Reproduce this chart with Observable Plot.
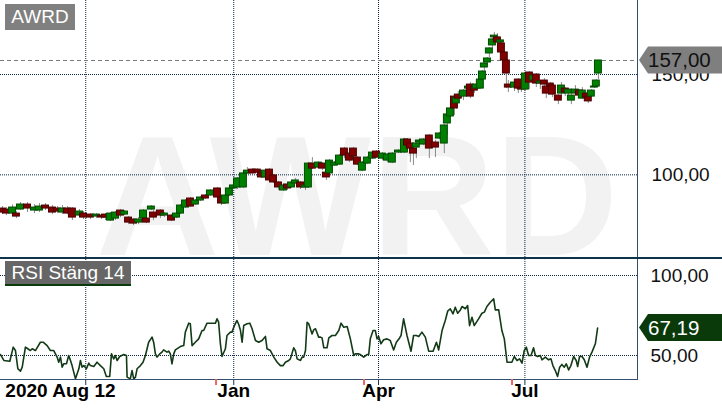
<!DOCTYPE html>
<html><head><meta charset="utf-8">
<script src="https://cdn.jsdelivr.net/npm/d3@7"></script>
<script src="https://cdn.jsdelivr.net/npm/@observablehq/plot@0.6"></script>
<style>
body{margin:0;background:#fff;font-family:Arial,"Liberation Sans",sans-serif;}
#wrap{position:relative;width:722px;height:411px;overflow:hidden;background:#fff;}
#wrap svg{position:absolute;left:0;overflow:hidden;}
.tag{position:absolute;color:#fff;font-size:19px;text-align:center;font-family:Arial,"Liberation Sans",sans-serif;}
</style></head><body><div id="wrap"></div>
<script>
// x = calendar days since 2020-08-09
const candleDay = [1.2,3.7,7.5,9.9,12.4,16.8,21.1,24.2,28.0,32.3,35.4,38.5,41.6,44.7,49.1,51.6,55.9,59.7,62.8,65.3,68.4,71.5,74.6,77.1,79.6,82.7,85.8,88.9,90.7,93.8,95.1,99.4,101.9,106.3,109.4,111.9,115.0,118.1,121.2,124.3,127.4,130.5,134.9,137.4,139.8,142.3,144.8,147.3,151.0,153.5,156.6,159.7,162.2,164.7,167.2,169.7,172.8,175.9,178.4,180.9,183.3,186.5,189.6,191.4,193.9,197.6,200.1,202.6,204.5,207.6,210.7,213.8,216.9,219.4,221.9,225.0,228.1,231.2,233.7,237.4,240.5,243.6,247.4,251.1,253.0,254.8,256.7,258.5,260.4,262.9,266.6,270.4,272.8,275.9,277.8,279.7,282.2,283.4,284.6,287.8,290.9,292.1,294.6,295.8,298.3,299.6,300.8,302.7,303.9,305.8,307.0,308.9,310.8,311.4,313.2,314.5,315.7,319.5,321.9,323.8,326.3,328.8,331.3,333.1,335.6,338.1,339.3,341.8,343.1,346.8,348.7,351.1,353.0,354.9,357.4,359.9,361.7,364.2,365.4,367.3,369.2,370.4,371.7];
const candleOpen = [83.2,82.7,80.7,80.7,82.7,85.2,82.2,82.2,84.7,83.7,83.2,81.2,83.2,83.2,79.7,80.7,80.2,79.2,79.7,80.2,77.2,78.2,82.2,80.2,78.7,77.7,76.2,78.2,78.2,82.7,81.2,82.2,79.7,79.7,78.7,80.7,83.7,88.2,85.2,87.2,89.7,89.7,93.2,88.7,85.7,89.7,93.2,93.7,93.7,100.7,102.6,102.6,101.1,98.7,102.6,99.7,96.2,92.2,95.2,93.7,95.7,96.2,93.7,93.7,105.6,103.6,105.6,101.1,100.7,104.6,105.1,113.1,110.6,113.1,108.6,102.1,105.6,108.1,111.6,108.1,107.1,106.1,111.1,111.1,117.6,115.6,113.1,113.6,116.1,115.1,119.6,116.1,118.1,115.6,125.6,129.1,139.0,135.6,140.0,139.0,143.0,145.0,144.0,143.0,143.0,147.5,153.5,156.0,160.5,164.5,168.5,168.5,166.0,165.5,161.0,157.0,145.0,143.5,147.5,143.5,142.5,151.0,147.0,150.0,145.5,147.0,144.0,145.5,144.5,139.5,140.5,143.0,140.5,137.0,140.5,142.0,138.0,140.5,139.0,139.0,143.5,144.0,150.5];
const candleClose = [81.2,80.7,83.7,79.2,85.2,83.2,83.7,84.2,83.2,81.2,81.7,83.2,80.7,78.7,81.7,78.7,78.7,80.2,78.7,78.7,80.7,81.2,79.7,81.7,76.2,75.7,77.7,82.2,76.2,84.2,78.7,79.7,80.7,77.2,80.7,84.7,87.2,84.2,87.2,88.7,88.2,92.2,88.7,85.7,89.7,93.2,94.7,98.2,100.7,102.1,100.7,101.1,98.7,102.1,97.2,96.2,93.7,94.7,93.2,96.2,97.2,93.7,94.7,105.6,103.1,106.1,103.1,98.7,107.1,106.1,109.6,109.6,107.1,109.1,105.1,106.1,108.6,111.1,108.6,110.6,110.1,110.6,112.1,117.6,114.6,113.1,110.6,115.6,117.1,117.6,113.1,113.6,120.6,124.6,130.1,133.1,133.1,138.5,138.0,142.0,144.0,139.0,142.0,145.0,147.5,151.5,155.5,158.0,163.0,167.5,169.4,166.0,167.0,161.0,157.0,150.5,143.5,146.0,143.0,142.5,150.5,146.0,149.5,145.5,146.5,145.0,140.5,144.0,140.0,137.0,144.5,141.0,142.5,139.5,142.5,139.5,142.0,138.5,136.6,142.0,144.0,147.0,157.0];
const candleHigh = [84.2,83.7,85.0,81.7,86.2,86.2,85.2,85.7,85.7,84.7,84.2,84.7,84.2,83.7,82.7,81.7,80.7,80.7,80.2,80.7,81.2,81.7,82.7,82.2,79.2,78.2,78.7,82.7,79.2,84.7,82.2,82.7,81.2,80.2,81.2,85.2,87.7,88.7,87.7,89.2,90.2,92.7,93.7,89.2,90.2,93.7,95.2,98.7,101.2,103.6,103.1,103.1,101.6,102.6,103.1,100.2,96.7,95.2,95.7,96.7,98.2,96.7,95.2,106.1,108.6,106.6,106.1,103.6,107.6,106.6,110.1,113.6,111.1,113.6,109.1,106.6,109.1,111.6,112.1,111.1,110.6,111.1,112.6,118.1,118.1,116.1,113.6,116.1,117.6,118.1,120.1,117.1,121.1,125.1,130.6,135.6,140.0,139.0,141.5,142.5,145.0,146.0,144.5,145.5,148.0,152.0,156.0,158.5,163.5,168.0,171.0,170.4,167.5,166.0,161.5,157.5,147.0,146.5,148.0,144.0,151.0,151.5,150.0,150.5,147.0,148.0,144.5,146.0,145.0,140.0,146.0,143.5,143.0,140.0,144.5,142.5,143.5,141.0,139.5,142.5,146.5,147.5,157.0];
const candleLow = [80.2,79.7,80.2,78.2,82.2,81.2,80.7,81.2,82.2,80.2,80.7,80.2,80.2,77.2,78.7,77.7,77.7,78.2,77.7,77.2,76.7,77.2,78.7,79.7,75.2,74.7,75.2,77.7,75.7,82.2,77.2,78.2,78.7,76.7,78.2,80.2,83.2,83.7,84.7,86.7,87.7,89.2,88.2,84.7,85.2,89.2,92.7,92.7,93.2,100.2,100.2,100.7,98.2,98.2,96.7,95.7,92.2,91.7,92.2,93.2,95.2,92.7,92.2,93.2,102.6,103.1,102.1,97.2,100.2,104.1,104.6,108.1,106.1,107.6,104.6,101.6,105.1,107.6,108.1,107.1,106.1,105.6,110.6,110.6,112.1,106.1,104.6,108.1,115.6,114.6,108.1,108.6,117.6,110.6,119.6,128.6,129.6,132.6,136.6,137.0,142.5,138.0,140.5,142.0,142.5,147.0,151.5,154.0,158.5,163.0,168.0,164.5,165.5,157.5,155.0,143.0,141.0,141.5,140.5,141.0,141.5,142.5,145.5,143.5,142.5,142.0,138.0,142.5,138.5,135.0,139.5,139.0,139.0,135.0,140.0,138.5,137.5,137.5,135.5,138.5,143.0,143.5,147.5];

const rsiDay = [0,2.1,5.8,7.9,9.3,10.8,12.4,13.5,15.5,17,18.6,19.7,21.7,24.8,26.5,29,31,33.1,35.2,36.2,37.3,38.3,39.3,41,42.4,43.5,44.5,46.6,48.7,49.7,50.7,51.8,53.4,54.9,55.9,58,60,62.1,64.2,65.8,67.9,69,70.4,71.4,72.5,74.1,76.6,78.3,78.7,80.7,81.8,82.8,83.9,84.9,87,88.6,90.1,92.1,94.2,95.2,96.3,97.3,99,100.4,101.4,103.5,104.6,105.6,106.6,107.7,108.7,111.8,113.9,114.9,117,118,119.1,121.1,123.2,125.3,126.3,128.4,131.5,133.6,134.6,135.6,136.7,137.7,139.8,140.8,142.9,143.9,145,147,148.1,149.2,150.2,151.2,153.3,155,156.4,158.5,160.5,162.6,164.7,165.7,167.8,169.9,172,174,175.7,177.1,179.2,180.2,182.3,183.3,184.4,186.5,187.5,188.5,189.6,190.6,191.6,193.7,194.7,195.8,197.8,198.9,199.9,201,203,204.1,206.1,208.2,210.3,211.7,213.4,215.5,217.5,219.6,220.6,222.7,223.7,225.8,227.8,228.9,229.9,231.6,233,234.1,235.1,236.5,238.2,240.3,242.3,244.4,246.1,248.1,249,250.6,252.7,255.2,256.8,258.5,260,262,264.1,266.2,268.9,271,272.4,274.5,276.5,278,279.6,281.3,282.7,284.2,285.9,286.9,289,290.4,291.6,293.1,294.5,297.2,299.3,300.8,302.4,304.5,306.6,307.6,309.7,311.7,313.2,314.9,317.9,319.4,321.1,322.7,324.2,325.6,326.9,328.3,329.8,331.4,332.5,333.9,335.6,336.6,338.7,340.7,342.2,343.4,344.9,346.3,347.6,349,350.5,351.7,353.2,354.6,356.3,357.9,358.8,360,361.5,362.9,364.6,366.2,367.7,369.8,371.2];
const rsiValue = [50.6,46.9,46.4,55.2,53.1,41.7,40.2,42.7,55.2,54.2,53.1,54.2,53.1,58.3,58.3,56.2,53.1,53.1,49.0,45.8,49.0,42.7,44.8,44.8,50.0,46.9,43.7,35.4,41.7,46.9,42.7,43.7,41.7,45.2,43.7,43.1,45.8,43.7,41.7,36.9,36.9,51.0,47.9,50.0,46.9,49.4,50.6,50.0,36.5,35.4,40.6,35.4,36.5,41.7,43.7,45.8,50.0,58.3,61.5,58.3,51.0,49.0,51.0,52.1,53.5,52.1,52.7,51.0,44.8,51.0,53.5,55.6,56.2,64.6,70.2,69.8,56.2,58.3,60.4,65.6,65.6,70.2,70.2,70.2,72.9,70.8,57.3,49.4,54.2,62.5,64.6,64.6,67.7,71.9,69.4,65.6,58.3,68.7,69.8,70.2,66.7,59.4,58.3,59.4,61.9,54.2,53.1,49.0,45.8,43.7,43.7,45.8,46.9,47.9,54.8,53.1,47.9,46.9,49.0,49.0,53.1,70.8,69.8,63.5,66.0,66.7,61.5,61.5,61.0,54.8,54.8,61.0,62.5,62.5,65.6,70.2,67.7,68.1,60.4,50.0,51.0,51.0,50.6,49.0,50.6,50.6,60.4,65.6,65.6,60.4,61.9,57.3,59.8,60.4,59.4,53.5,58.3,61.0,62.5,72.9,62.5,52.7,62.5,62.5,61.9,64.6,61.5,52.7,52.7,58.3,53.5,65.6,71.9,77.7,79.2,76.0,80.2,76.4,78.5,80.6,79.2,81.2,68.7,73.9,68.7,72.9,76.4,77.1,80.6,83.3,85.4,78.5,78.5,65.6,60.4,45.8,45.8,49.4,46.9,47.9,45.2,53.1,55.2,50.0,50.0,54.8,50.0,49.4,50.0,47.3,49.0,47.3,47.9,43.7,40.6,36.9,42.7,44.4,42.7,44.8,41.0,43.7,49.4,46.9,43.1,49.4,49.4,47.3,42.7,49.0,52.1,57.3,67.19];

const gridDays = [53, 145, 235, 326];          // Oct 1, Jan 1, Apr 1, Jul 1
const monthLabels = ["Jan", "Apr", "Jul"];
const monthDays = [145, 235, 326];
const startLabel = "2020 Aug 12";
const startDay = [3];
const markerDays = [134, 226, 318];
const priceTicks = [100, 150];
const rsiTicks = [50, 100];
const symbol = "AWRD";
const rsiTitle = "RSI Stäng 14";

const candles = candleDay.map((d, i) => ({day: d, open: candleOpen[i], high: candleHigh[i], low: candleLow[i], close: candleClose[i]}));
const rsi = rsiDay.map((d, i) => ({day: d, value: rsiValue[i]}));
const lastClose = candleClose[candleClose.length - 1];
const lastRsi = rsiValue[rsiValue.length - 1];
const fmt = v => v.toFixed(2).replace(".", ",");
const FONT = "Arial, 'Liberation Sans', sans-serif";
const dotted = {stroke: "#0b2540", strokeDasharray: "1,1", strokeWidth: 1};
const border = "#34506e";
const xDomain = [0, 396];

const topPlot = Plot.plot({
  width: 722, height: 257, marginLeft: 0, marginRight: 85, marginTop: 0, marginBottom: 0,
  style: {fontFamily: FONT, background: "transparent"},
  x: {domain: xDomain, axis: null},
  y: {domain: [58.8, 186.9], axis: null},
  color: {type: "identity"},
  marks: [
    Plot.text([symbol], {text: d => d, frameAnchor: "bottom", lineAnchor: "bottom", dx: 38, dy: -3, fontSize: 171, fontWeight: "bold", fill: "#f2f2f2"}),
    Plot.ruleY(priceTicks, dotted),
    Plot.ruleX(gridDays, dotted),
    Plot.ruleY([lastClose], {stroke: "#7a7a7a", strokeDasharray: "4,3"}),
    Plot.ruleX(candles, {x: "day", y1: "low", y2: "high", stroke: "#8a8a8a"}),
    Plot.rect(candles, {x1: d => d.day - 2.15, x2: d => d.day + 2.15, y1: "open", y2: "close",
      fill: d => d.close >= d.open ? "#008000" : "#800000",
      stroke: d => d.close >= d.open ? "#004a00" : "#4a0000", strokeWidth: 1}),
    Plot.axisY(priceTicks, {anchor: "right", tickSize: 0, tickPadding: 14, tickFormat: fmt, fontSize: 19, fill: "#111", label: null}),
    Plot.frame({anchor: "right", stroke: border})
  ]
});

const bottomPlot = Plot.plot({
  width: 722, height: 152, marginLeft: 0, marginRight: 85, marginTop: 0, marginBottom: 32,
  style: {fontFamily: FONT, background: "transparent"},
  x: {domain: xDomain, axis: null},
  y: {domain: [35, 110], axis: null},
  marks: [
    Plot.ruleY(rsiTicks, dotted),
    Plot.ruleX(gridDays, dotted),
    Plot.line(rsi, {x: "day", y: "value", stroke: "#123a16", strokeWidth: 1.6}),
    Plot.axisY(rsiTicks, {anchor: "right", tickSize: 0, tickPadding: 13, tickFormat: fmt, fontSize: 19, fill: "#111", label: null}),
    Plot.frame({anchor: "right", stroke: border}),
    Plot.frame({anchor: "bottom", stroke: border}),
    Plot.axisX(gridDays, {anchor: "bottom", tickSize: 6, stroke: "#1a3550", tickFormat: () => "", label: null}),
    Plot.axisX(markerDays, {anchor: "bottom", tickSize: 6, stroke: "#f06464", strokeWidth: 2, tickFormat: () => "", label: null}),
    Plot.text(monthLabels, {x: monthDays, text: d => d, frameAnchor: "bottom", dy: 17, fontSize: 19, fontWeight: "bold", fill: "#000"}),
    Plot.text([startLabel], {x: startDay, text: d => d, frameAnchor: "bottom", dy: 17, textAnchor: "start", fontSize: 19, fontWeight: "bold", fill: "#000"})
  ]
});

const wrap = document.getElementById("wrap");
topPlot.style.top = "0px";
bottomPlot.style.top = "259px";
wrap.appendChild(topPlot);
wrap.appendChild(bottomPlot);

const sep = document.createElement("div");
sep.style.cssText = "position:absolute;left:0;top:257px;width:722px;height:2px;background:#0d3448;";
wrap.appendChild(sep);

const lab1 = document.createElement("div");
lab1.className = "tag";
lab1.textContent = symbol;
lab1.style.cssText += "left:5px;top:4px;width:70px;height:26px;line-height:26px;background:#808080;";
wrap.appendChild(lab1);

const lab2 = document.createElement("div");
lab2.className = "tag";
lab2.textContent = rsiTitle;
lab2.style.cssText += "left:5px;top:261px;width:126px;height:23px;line-height:23px;background:#666;border-bottom:2px solid #0a3a0a;";
wrap.appendChild(lab2);

// value tags on the right
const yTop = topPlot.scale("y"), yBot = bottomPlot.scale("y");
const ov = d3.select(wrap).append("svg").attr("width", 722).attr("height", 411).style("top", "0px").style("position", "absolute");
function valueTag(cy, fill, color, text) {
  ov.append("polygon").attr("points", `639,${cy} 648,${cy - 13.5} 722,${cy - 13.5} 722,${cy + 13.5} 648,${cy + 13.5}`).attr("fill", fill);
  ov.append("text").attr("x", 648).attr("y", cy).attr("dy", "0.36em").attr("font-size", 20.5)
    .attr("font-family", FONT).attr("fill", color).text(text);
}
valueTag(yTop.apply(lastClose), "#7f7f7f", "#111", fmt(lastClose));
valueTag(259 + yBot.apply(lastRsi), "#0a3a0a", "#fff", fmt(lastRsi));
</script></body></html>
